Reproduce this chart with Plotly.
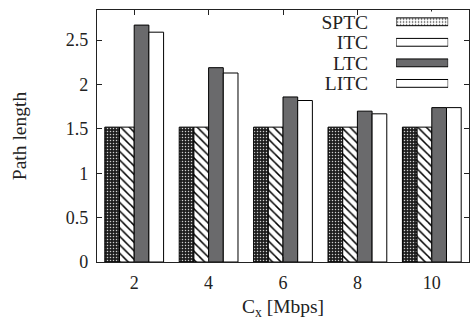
import plotly.graph_objects as go

categories = ["2", "4", "6", "8", "10"]
series_names = ["SPTC", "ITC", "LTC", "LITC"]
sptc = [1.52, 1.52, 1.52, 1.52, 1.52]
itc = [1.52, 1.52, 1.52, 1.52, 1.52]
ltc = [2.67, 2.19, 1.86, 1.70, 1.74]
litc = [2.59, 2.13, 1.82, 1.67, 1.74]
y_ticks = [0, 0.5, 1, 1.5, 2, 2.5]
y_tick_labels = ["0", "0.5", "1", "1.5", "2", "2.5"]

series_values = [sptc, itc, ltc, litc]
fills = ["#1e1e1e", "white", "#6a6a6c", "white"]
bgs = ["#1e1e1e", "white", "#6a6a6c", "white"]
shapes = [".", "\\", "", ""]
fgs = ["#d0d0d0", "black", "black", "black"]
sizes = [3, 6, 8, 8]
solid = [0.2, 0.25, 0.3, 0.3]

FONT = "Liberation Serif"
fig = go.Figure()
for name, vals, fc, bg, sh, fg, sz, so in zip(series_names, series_values, fills, bgs, shapes, fgs, sizes, solid):
    fig.add_trace(go.Bar(
        x=categories, y=vals, name=name, showlegend=False,
        marker=dict(color=fc, line=dict(color="black", width=1),
                    pattern=dict(shape=sh, fgcolor=fg, bgcolor=bg, size=sz, solidity=so, fillmode="replace")),
        xaxis="x", yaxis="y",
    ))

# legend drawn as a small horizontal bar inset (swatches to the right of names)
fig.add_trace(go.Bar(
    y=series_names, x=[1] * len(series_names), orientation="h", width=0.38,
    showlegend=False, hoverinfo="skip",
    marker=dict(color=fills, line=dict(color="black", width=1),
                pattern=dict(shape=shapes, fgcolor=fgs, bgcolor=bgs, size=sizes, solidity=solid, fillmode="replace")),
    xaxis="x2", yaxis="y2",
))

axis_common = dict(showline=True, linecolor="#222", linewidth=1.3, mirror="ticks",
                   ticks="inside", ticklen=5, tickcolor="#222", showgrid=False, zeroline=False,
                   automargin=False,
                   tickfont=dict(family=FONT, size=18, color="#222"))

fig.update_layout(
    width=471, height=320, autosize=False,
    margin=dict(l=97, r=2, t=10, b=58, autoexpand=False),
    paper_bgcolor="white", plot_bgcolor="white",
    barmode="group", bargap=0.21, bargroupgap=0,
    font=dict(family=FONT, size=18, color="#222"),
    xaxis=dict(**axis_common, type="category", range=[-0.5, 4.5],
               title=dict(text="C<sub>x</sub> [Mbps]", font=dict(family=FONT, size=19.5, color="#222"), standoff=10),
               ticklabelstandoff=4),
    yaxis=dict(**axis_common, range=[0, 2.84], tickvals=y_ticks, ticktext=y_tick_labels,
               title=dict(text="Path length", font=dict(family=FONT, size=19.5, color="#222"), standoff=33),
               ticklabelstandoff=4),
    xaxis2=dict(domain=[0.804, 0.944], range=[0, 1], anchor="y2", visible=False, fixedrange=True),
    yaxis2=dict(domain=[0.668, 0.994], anchor="x2", autorange="reversed", type="category",
                tickmode="array", tickvals=series_names, ticktext=series_names,
                showline=False, showgrid=False, zeroline=False, ticks="", automargin=False,
                tickfont=dict(family=FONT, size=19.5, color="#222"), ticklabelstandoff=27),
)

post = ("document.body.style.margin='0';document.body.style.padding='0';"
        "var gd=document.getElementById('{plot_id}');"
        "Plotly.relayout(gd,{width:471,height:320});")
fig.write_html("out.html", config={"responsive": False, "displayModeBar": False}, post_script=post)
